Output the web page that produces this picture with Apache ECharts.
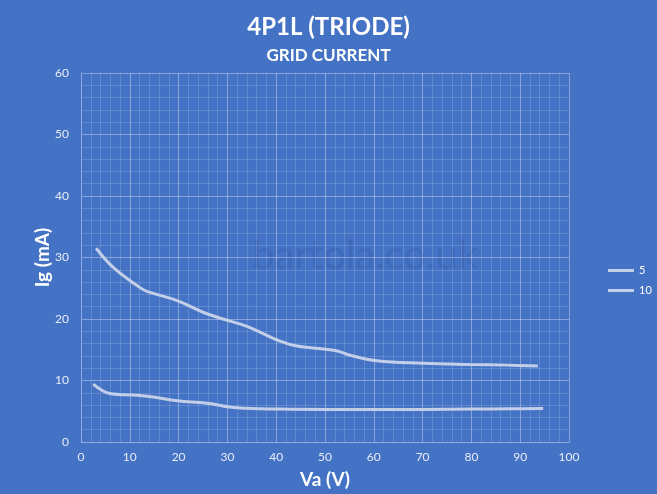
<!DOCTYPE html>
<html><head><meta charset="utf-8">
<script src="https://cdn.jsdelivr.net/npm/echarts@6/dist/echarts.min.js"></script>
<style>html,body{margin:0;padding:0;background:#4472c4;}#c{width:657px;height:494px;}</style>
</head><body><div id="c"></div>
<script>
const seriesNames = ['5', '10'];
const va5 = [2.5, 5.9, 11.5, 14.8, 19.7, 25.8, 32, 40.8, 51, 60, 70, 80, 88, 94.7];
const ig5 = [9.4, 7.9, 7.6, 7.3, 6.7, 6.3, 5.55, 5.35, 5.3, 5.3, 5.3, 5.35, 5.4, 5.45];
const va10 = [3.1, 6.6, 12.1, 13.5, 19.7, 25, 29.1, 34, 40.8, 44.3, 51, 53, 55.1, 60.6, 70, 79.7, 87.3, 93.6];
const ig10 = [31.5, 28.4, 25.1, 24.5, 23.0, 21.1, 20.0, 18.8, 16.4, 15.6, 15.0, 14.7, 14.1, 13.2, 12.8, 12.6, 12.5, 12.35];
const xTicks = [0, 10, 20, 30, 40, 50, 60, 70, 80, 90, 100];
const yTicks = [0, 10, 20, 30, 40, 50, 60];

const font = 'Lato, "Open Sans", sans-serif';
const lineColor = '#c3cfe9';
const chart = echarts.init(document.getElementById('c'));
chart.setOption({
  backgroundColor: '#4472c4',
  animation: false,
  title: [
    {text: '4P1L (TRIODE)', left: 'center', top: 10, textStyle: {color: '#fff', fontSize: 24, fontWeight: 'bold', fontFamily: font}},
    {text: 'GRID CURRENT', left: 'center', top: 42, textStyle: {color: '#fff', fontSize: 17, fontWeight: 'bold', fontFamily: font}}
  ],
  graphic: [{
    type: 'text', left: 252, top: 236, silent: true,
    style: {text: 'bartola.co.uk', fill: 'rgba(40,70,140,0.16)', font: '40px ' + font}
  }],
  legend: {
    orient: 'vertical', left: 603, top: 260, itemGap: 9,
    itemWidth: 26, itemHeight: 3, icon: 'rect',
    textStyle: {color: '#fff', fontSize: 11, fontFamily: font},
    data: seriesNames
  },
  grid: {left: 81, right: 88, top: 73, bottom: 51},
  xAxis: {
    type: 'value', min: 0, max: 100, interval: 10,
    name: 'Va (V)', nameLocation: 'middle', nameGap: 28, nameMoveOverlap: false,
    nameTextStyle: {color: '#fff', fontSize: 19, fontWeight: 'bold', fontFamily: font},
    axisLine: {show: true, lineStyle: {color: '#8eaadf', width: 1}},
    axisTick: {show: false},
    axisLabel: {color: '#e6ecf7', fontSize: 12, fontFamily: font, margin: 9,
      formatter: v => xTicks.includes(v) ? String(v) : ''},
    splitLine: {show: true, lineStyle: {color: 'rgba(255,255,255,0.35)', width: 1}},
    minorTick: {show: false, splitNumber: 5},
    minorSplitLine: {show: true, lineStyle: {color: 'rgba(255,255,255,0.15)', width: 1}}
  },
  yAxis: {
    type: 'value', min: 0, max: 60, interval: 10,
    name: 'Ig (mA)', nameLocation: 'middle', nameGap: 29, nameMoveOverlap: false,
    nameTextStyle: {color: '#fff', fontSize: 19, fontWeight: 'bold', fontFamily: font},
    axisLine: {show: true, lineStyle: {color: '#8eaadf', width: 1}},
    axisTick: {show: false},
    axisLabel: {color: '#e6ecf7', fontSize: 12, fontFamily: font, margin: 12,
      formatter: v => yTicks.includes(v) ? String(v) : ''},
    splitLine: {show: true, lineStyle: {color: 'rgba(255,255,255,0.35)', width: 1}},
    minorTick: {show: false, splitNumber: 5},
    minorSplitLine: {show: true, lineStyle: {color: 'rgba(255,255,255,0.15)', width: 1}}
  },
  series: [
    {name: seriesNames[0], type: 'line', smooth: 0.4, showSymbol: false,
      data: va5.map((x, i) => [x, ig5[i]]),
      itemStyle: {color: lineColor}, lineStyle: {color: lineColor, width: 3}},
    {name: seriesNames[1], type: 'line', smooth: 0.4, showSymbol: false,
      data: va10.map((x, i) => [x, ig10[i]]),
      itemStyle: {color: lineColor}, lineStyle: {color: lineColor, width: 3}}
  ]
});
</script></body></html>
